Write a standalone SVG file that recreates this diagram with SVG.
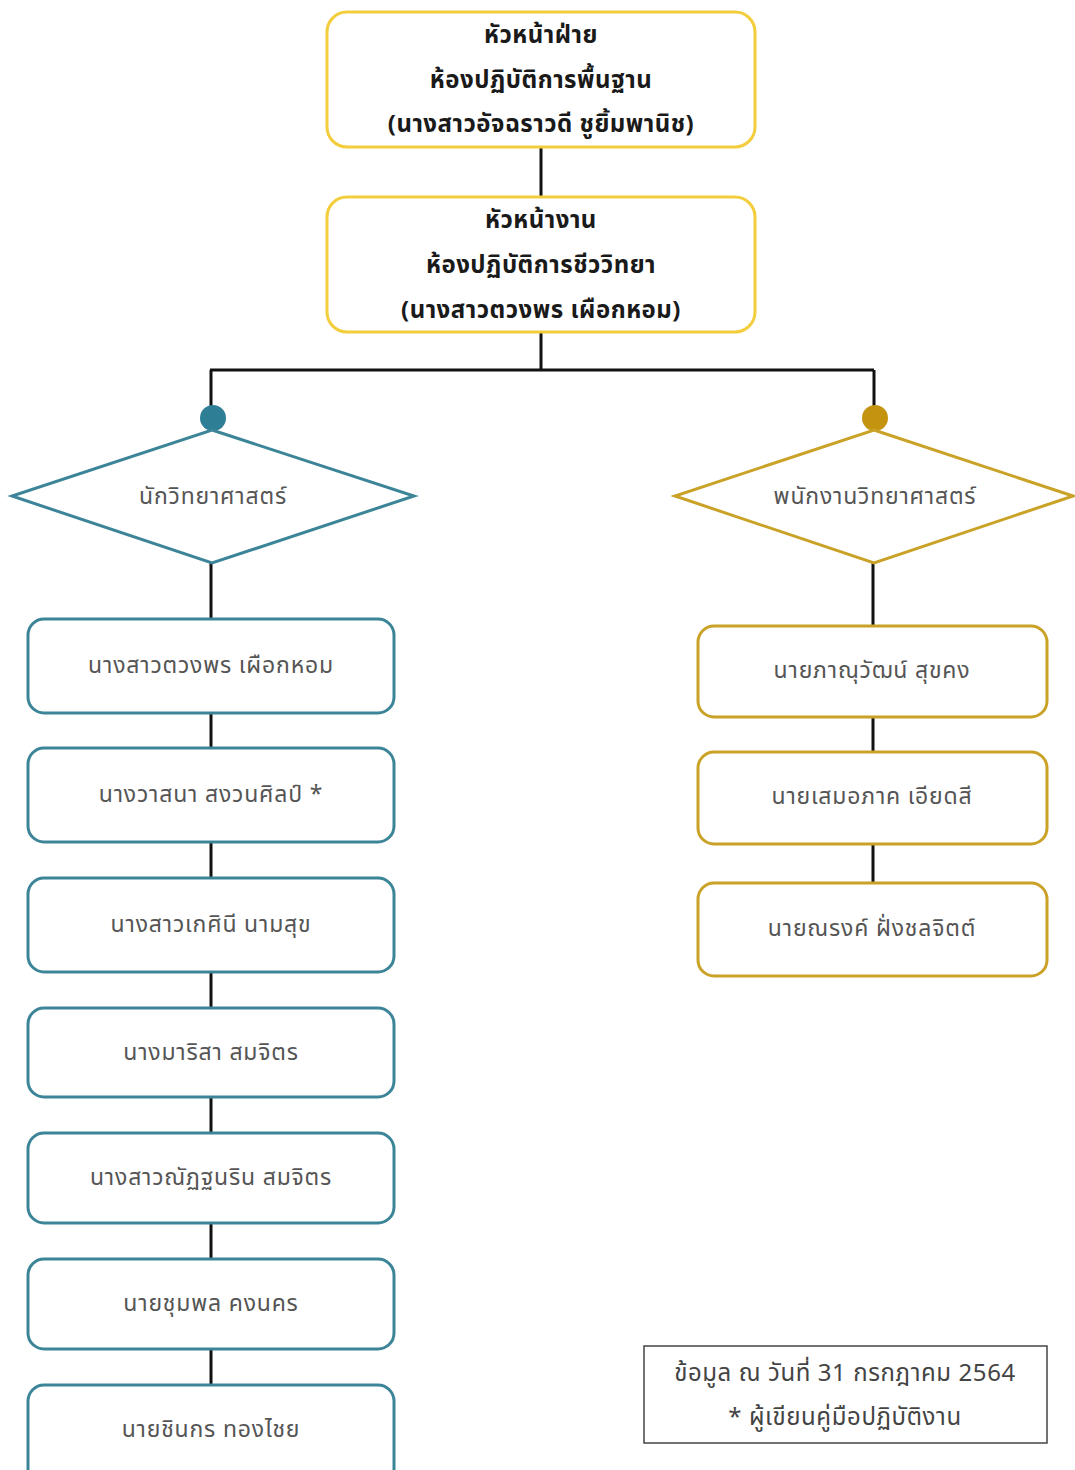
<svg xmlns="http://www.w3.org/2000/svg" width="1075" height="1470" viewBox="0 0 1075 1470">
<style>
.bg{fill:#ffffff}
.head{fill:#ffffff;stroke:#f3cd3c;stroke-width:3}
.sci{fill:#ffffff;stroke:#3c8598;stroke-width:3}
.staff{fill:#ffffff;stroke:#c9a227;stroke-width:3}
.note{fill:#ffffff;stroke:#444444;stroke-width:1.5}
.conn{stroke:#111111;stroke-width:3;fill:none}
text{font-family:"Noto Sans Thai","Noto Sans","DejaVu Sans",sans-serif;text-anchor:middle;dominant-baseline:central}
.ht{font-size:24px;font-weight:bold;fill:#1a1a1a;letter-spacing:0.5px}
.nt{font-size:23px;fill:#555555;letter-spacing:0.8px}
.ft{font-size:24px;fill:#444444;letter-spacing:0.6px}
</style>
<rect class="bg" x="0" y="0" width="1075" height="1470"/>
<g id="connectors">
<line class="conn" x1="541" y1="147" x2="541" y2="197"/>
<path class="conn" d="M541 332 V370 M210 370 H874 M211 370 V410 M874 370 V410"/>
<line class="conn" x1="211" y1="563" x2="211" y2="619"/>
<line class="conn" x1="211" y1="713" x2="211" y2="748"/>
<line class="conn" x1="211" y1="842" x2="211" y2="878"/>
<line class="conn" x1="211" y1="972" x2="211" y2="1008"/>
<line class="conn" x1="211" y1="1097" x2="211" y2="1133"/>
<line class="conn" x1="211" y1="1223" x2="211" y2="1259"/>
<line class="conn" x1="211" y1="1349" x2="211" y2="1385"/>
<line class="conn" x1="873" y1="563" x2="873" y2="626"/>
<line class="conn" x1="873" y1="717" x2="873" y2="752"/>
<line class="conn" x1="873" y1="844" x2="873" y2="883"/>
</g>
<g id="head1">
<rect class="head" x="327" y="12" width="428" height="135" rx="20"/>
<text class="ht" x="541" y="36">หัวหน้าฝ่าย</text>
<text class="ht" x="541" y="81">ห้องปฏิบัติการพื้นฐาน</text>
<text class="ht" x="541" y="125">(นางสาวอัจฉราวดี ชูยิ้มพานิช)</text>
</g>
<g id="head2">
<rect class="head" x="327" y="197" width="428" height="135" rx="20"/>
<text class="ht" x="541" y="221">หัวหน้างาน</text>
<text class="ht" x="541" y="266">ห้องปฏิบัติการชีววิทยา</text>
<text class="ht" x="541" y="311">(นางสาวตวงพร เผือกหอม)</text>
</g>
<g id="scientist">
<circle cx="213" cy="418" r="13" fill="#2e7f96"/>
<polygon class="sci" points="212,430 414,496 212,563 12,496"/>
<text class="nt" x="213" y="497">นักวิทยาศาสตร์</text>
</g>
<g id="sci-staff">
<circle cx="875" cy="418" r="13" fill="#c49410"/>
<polygon class="staff" points="874,430 1073,496 874,563 675,496"/>
<text class="nt" x="875" y="497">พนักงานวิทยาศาสตร์</text>
</g>
<g id="s1"><rect class="sci" x="28" y="619" width="366" height="94" rx="16"/><text class="nt" x="211" y="666">นางสาวตวงพร เผือกหอม</text></g>
<g id="s2"><rect class="sci" x="28" y="748" width="366" height="94" rx="16"/><text class="nt" x="211" y="795">นางวาสนา สงวนศิลป์ *</text></g>
<g id="s3"><rect class="sci" x="28" y="878" width="366" height="94" rx="16"/><text class="nt" x="211" y="925">นางสาวเกศินี นามสุข</text></g>
<g id="s4"><rect class="sci" x="28" y="1008" width="366" height="89" rx="16"/><text class="nt" x="211" y="1053">นางมาริสา สมจิตร</text></g>
<g id="s5"><rect class="sci" x="28" y="1133" width="366" height="90" rx="16"/><text class="nt" x="211" y="1178">นางสาวณัฏฐนริน สมจิตร</text></g>
<g id="s6"><rect class="sci" x="28" y="1259" width="366" height="90" rx="16"/><text class="nt" x="211" y="1304">นายชุมพล คงนคร</text></g>
<g id="s7"><rect class="sci" x="28" y="1385" width="366" height="100" rx="16"/><text class="nt" x="211" y="1430">นายชินกร ทองไชย</text></g>
<g id="t1"><rect class="staff" x="698" y="626" width="349" height="91" rx="16"/><text class="nt" x="872" y="671">นายภาณุวัฒน์ สุขคง</text></g>
<g id="t2"><rect class="staff" x="698" y="752" width="349" height="92" rx="16"/><text class="nt" x="872" y="797">นายเสมอภาค เอียดสี</text></g>
<g id="t3"><rect class="staff" x="698" y="883" width="349" height="93" rx="16"/><text class="nt" x="872" y="929">นายณรงค์ ฝั่งชลจิตต์</text></g>
<g id="note">
<rect class="note" x="644" y="1346" width="403" height="97"/>
<text class="ft" x="845" y="1374">ข้อมูล ณ วันที่ 31 กรกฎาคม 2564</text>
<text class="ft" x="845" y="1418">* ผู้เขียนคู่มือปฏิบัติงาน</text>
</g>
</svg>
